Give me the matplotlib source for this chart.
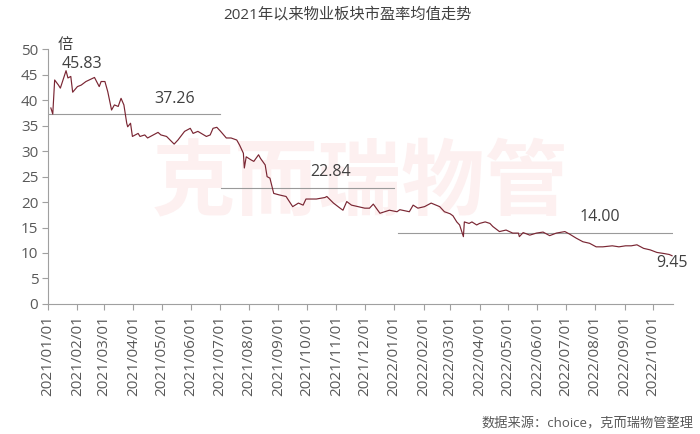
import matplotlib
matplotlib.use("Agg")
import matplotlib.pyplot as plt
import matplotlib.dates as mdates
import pandas as pd

plt.rcParams['font.family'] = ['Open Sans', 'Noto Sans CJK SC', 'DejaVu Sans']

title = "2021年以来物业板块市盈率均值走势"
unit_label = "倍"
source_note = "数据来源：choice，克而瑞物管整理"
watermark = "克而瑞物管"

# PE average
dates = [
    "2021-01-04", "2021-01-06", "2021-01-08", "2021-01-12", "2021-01-14", "2021-01-20",
    "2021-01-22", "2021-01-25", "2021-01-27", "2021-02-01", "2021-02-05", "2021-02-10",
    "2021-02-19", "2021-02-24", "2021-02-26", "2021-03-02", "2021-03-05", "2021-03-09",
    "2021-03-12", "2021-03-16", "2021-03-19", "2021-03-22", "2021-03-25", "2021-03-26",
    "2021-03-29", "2021-03-31", "2021-04-06", "2021-04-08", "2021-04-13", "2021-04-16",
    "2021-04-22", "2021-04-27", "2021-04-30", "2021-05-06", "2021-05-14", "2021-05-18",
    "2021-05-25", "2021-05-31", "2021-06-03", "2021-06-08", "2021-06-17", "2021-06-21",
    "2021-06-24", "2021-06-28", "2021-07-02", "2021-07-08", "2021-07-13", "2021-07-19",
    "2021-07-22", "2021-07-26", "2021-07-27", "2021-07-29", "2021-08-03", "2021-08-06",
    "2021-08-11", "2021-08-13", "2021-08-18", "2021-08-20", "2021-08-23", "2021-08-26",
    "2021-08-27", "2021-09-02", "2021-09-09", "2021-09-16", "2021-09-22", "2021-09-27",
    "2021-09-30", "2021-10-11", "2021-10-20", "2021-10-22", "2021-10-29", "2021-11-05",
    "2021-11-08", "2021-11-12", "2021-11-17", "2021-11-24", "2021-12-01", "2021-12-06",
    "2021-12-10", "2021-12-17", "2021-12-22", "2021-12-27", "2022-01-04", "2022-01-07",
    "2022-01-12", "2022-01-17", "2022-01-21", "2022-01-26", "2022-02-02", "2022-02-09",
    "2022-02-14", "2022-02-18", "2022-02-23", "2022-03-01", "2022-03-04", "2022-03-08",
    "2022-03-11", "2022-03-15", "2022-03-16", "2022-03-21", "2022-03-24", "2022-03-29",
    "2022-04-01", "2022-04-07", "2022-04-12", "2022-04-15", "2022-04-22", "2022-04-29",
    "2022-05-06", "2022-05-12", "2022-05-13", "2022-05-17", "2022-05-24", "2022-05-31",
    "2022-06-07", "2022-06-14", "2022-06-21", "2022-06-30", "2022-07-05", "2022-07-12",
    "2022-07-19", "2022-07-26", "2022-08-02", "2022-08-09", "2022-08-19", "2022-08-26",
    "2022-09-02", "2022-09-08", "2022-09-14", "2022-09-21", "2022-09-28", "2022-10-05",
    "2022-10-12", "2022-10-18", "2022-10-21",
]
pe_values = [
    38.5, 37.3, 44.0, 43.0, 42.4, 45.83,
    44.4, 44.7, 41.6, 42.7, 43.0, 43.7,
    44.5, 42.7, 43.7, 43.7, 41.7, 38.1,
    39.1, 38.8, 40.4, 39.1, 35.5, 34.8,
    35.5, 32.9, 33.5, 32.9, 33.2, 32.6,
    33.2, 33.7, 33.2, 32.9, 31.4, 32.2,
    33.9, 34.5, 33.5, 33.9, 32.9, 33.2,
    34.5, 34.7, 33.9, 32.6, 32.6, 32.2,
    31.2, 29.6, 26.7, 28.9, 28.3, 28.0,
    29.3, 28.6, 27.3, 25.0, 24.7, 22.4,
    21.7, 21.4, 21.1, 19.1, 19.8, 19.4,
    20.6, 20.6, 20.9, 21.1, 19.8, 18.8,
    18.4, 20.1, 19.4, 19.1, 18.8, 18.8,
    19.6, 17.8, 18.1, 18.4, 18.1, 18.5,
    18.3, 18.1, 19.4, 18.8, 19.1, 19.8,
    19.4, 19.1, 18.1, 17.7, 17.3, 16.1,
    15.5, 13.2, 16.1, 15.8, 16.1, 15.5,
    15.8, 16.1, 15.8, 15.2, 14.2, 14.5,
    13.9, 13.9, 13.2, 14.0, 13.5, 13.9,
    14.1, 13.4, 13.9, 14.2, 13.7, 12.9,
    12.2, 11.9, 11.2, 11.2, 11.4, 11.2,
    11.4, 11.4, 11.6, 10.9, 10.6, 10.1,
    9.9, 9.7, 9.45,
]

# period averages
avg_values = [37.26, 22.84, 14.00]
avg_starts = ["2021-01-01", "2021-07-02", "2022-01-05"]
avg_ends = ["2021-07-01", "2022-01-01", "2022-10-22"]

text_color = "#404040"
tick_color = "#595959"
axis_color = "#a0a0a0"
line_color = "#7a2633"

x = pd.to_datetime(dates)

fig = plt.figure(figsize=(7, 4.34), dpi=100)
ax = fig.add_axes([0.0686, 0.300, 0.8928, 0.586])

ax.text(0.499, 0.467, watermark, transform=ax.transAxes, fontsize=60,
        family=['Noto Sans CJK SC'], fontweight='bold', color='#fdf0f0',
        ha='center', va='center', zorder=0)

ax.plot(x, pe_values, color=line_color, linewidth=0.85, zorder=3)

label_dates = ["2021-05-15", "2021-10-26", "2022-08-06"]
for val, s, e, ld in zip(avg_values, avg_starts, avg_ends, label_dates):
    ax.plot([pd.Timestamp(s), pd.Timestamp(e)], [val, val], color='#9a9a9a',
            linewidth=0.8, zorder=2)
    ax.text(pd.Timestamp(ld), val + 3.0, f"{val:.2f}", fontsize=11.5,
            color=text_color, ha='center', va='center')

# max and last value labels
i_max = pe_values.index(max(pe_values))
ax.annotate(f"{pe_values[i_max]:.2f}", (x[i_max], pe_values[i_max]),
            xytext=(-3.5, 4.5), textcoords='offset points', fontsize=11.5,
            color=text_color, ha='left', va='center')
ax.annotate(f"{pe_values[-1]:.2f}", (x[-1], pe_values[-1]),
            xytext=(0, -5), textcoords='offset points', fontsize=11.5,
            color=text_color, ha='center', va='center', annotation_clip=False)

ax.text(0.027, 1.017, unit_label, transform=ax.transAxes, fontsize=11,
        color=text_color, ha='center', va='center')

ax.set_ylim(0, 50)
ax.set_yticks(range(0, 51, 5))
ax.set_xlim(pd.Timestamp("2021-01-01"), pd.Timestamp("2022-10-22"))
ax.xaxis.set_major_locator(mdates.MonthLocator())
ax.xaxis.set_major_formatter(mdates.DateFormatter("%Y/%m/%d"))
plt.setp(ax.get_xticklabels(), rotation=90)

for side in ["top", "right"]:
    ax.spines[side].set_visible(False)
for side in ["left", "bottom"]:
    ax.spines[side].set_color(axis_color)
    ax.spines[side].set_linewidth(0.8)
ax.tick_params(axis='both', colors=axis_color, labelcolor=tick_color,
               labelsize=11, length=4, width=0.8)
ax.tick_params(axis='y', pad=3)
ax.tick_params(axis='x', pad=4)

fig.text(0.496, 0.965, title, fontsize=11, color=text_color,
         ha='center', va='center')
fig.text(0.99, 0.023, source_note, fontsize=9.5, color=tick_color,
         ha='right', va='center')

fig.savefig("out.png", dpi=100)
